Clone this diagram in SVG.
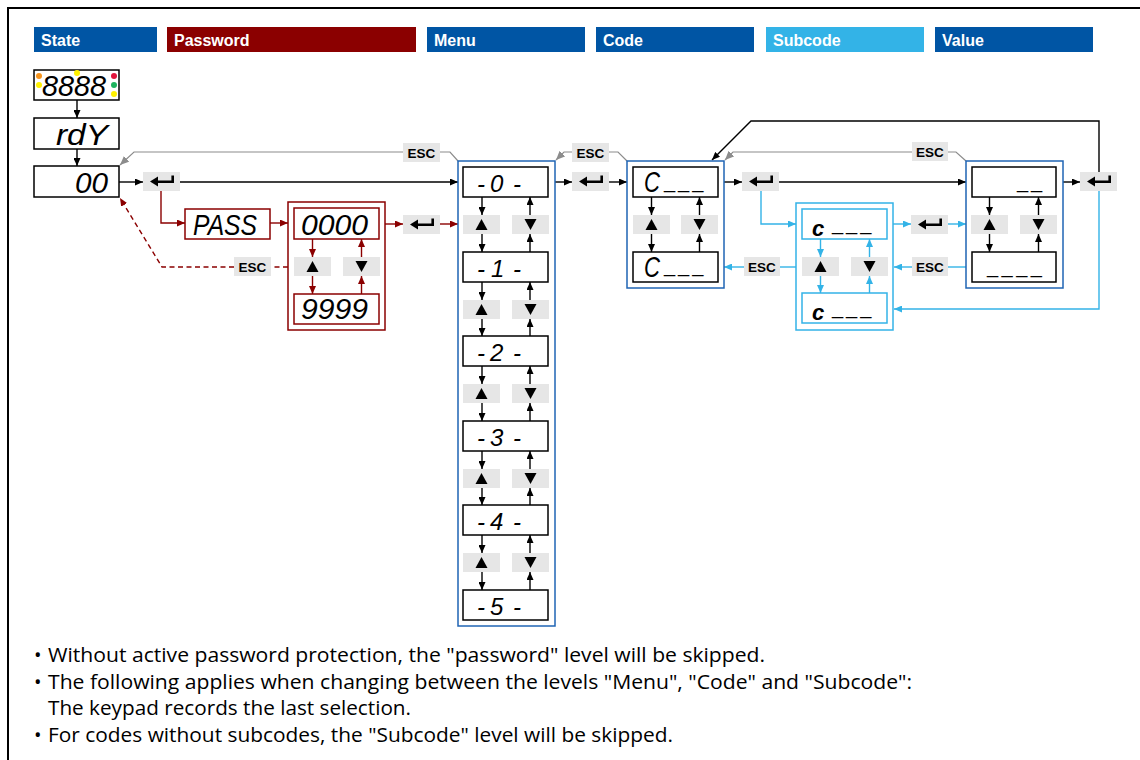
<svg xmlns="http://www.w3.org/2000/svg" xmlns:xlink="http://www.w3.org/1999/xlink" width="1140" height="760" viewBox="0 0 1140 760">
<style>
.hdr{font-family:"Liberation Sans",Arial,sans-serif;font-weight:bold;font-size:16px;fill:#fff}
.disp{fill:#fff;stroke:#000;stroke-width:1.5}
.dispr{fill:#fff;stroke:#8b0000;stroke-width:1.5}
.displ{fill:#fff;stroke:#33b3e7;stroke-width:1.5}
.outb{fill:none;stroke:#1f64b4;stroke-width:1.5}
.outr{fill:none;stroke:#8b0000;stroke-width:1.5}
.outl{fill:none;stroke:#33b3e7;stroke-width:1.5}
.seg{font-family:"Liberation Sans",Arial,sans-serif;font-style:italic;fill:#000}
.und{font-family:"Liberation Sans",Arial,sans-serif;font-size:20px;fill:#000}
.key{fill:#e6e6e6}
.esc{font-family:"Liberation Sans",Arial,sans-serif;font-weight:bold;font-size:13.5px;fill:#000}
.note{font-family:"Open Sans","Noto Sans",sans-serif;font-size:20px;fill:#000}
.cb{fill:none;stroke:#000;stroke-width:1.4}
.cr{fill:none;stroke:#8b0000;stroke-width:1.4}
.crd{fill:none;stroke:#8b0000;stroke-width:1.4;stroke-dasharray:5,3.5}
.cl{fill:none;stroke:#33b3e7;stroke-width:1.4}
.cg{fill:none;stroke:#8c8c8c;stroke-width:1.2}
</style>
<defs>
<marker id="ab" viewBox="0 0 8 7" refX="8" refY="3.5" markerWidth="8" markerHeight="7" markerUnits="userSpaceOnUse" orient="auto"><path d="M0,0L8,3.5L0,7z" fill="#000"/></marker>
<marker id="ar" viewBox="0 0 8 7" refX="8" refY="3.5" markerWidth="8" markerHeight="7" markerUnits="userSpaceOnUse" orient="auto"><path d="M0,0L8,3.5L0,7z" fill="#8b0000"/></marker>
<marker id="al" viewBox="0 0 8 7" refX="8" refY="3.5" markerWidth="8" markerHeight="7" markerUnits="userSpaceOnUse" orient="auto"><path d="M0,0L8,3.5L0,7z" fill="#33b3e7"/></marker>
<marker id="ag" viewBox="0 0 8 7" refX="8" refY="3.5" markerWidth="9" markerHeight="8" markerUnits="userSpaceOnUse" orient="auto"><path d="M0,0L8,3.5L0,7z" fill="#8c8c8c"/></marker>
<symbol id="kEnter" viewBox="0 0 37 19"><rect width="37" height="19" fill="#e6e6e6"/><path d="M7,9.5L15,4.5V14.5Z" fill="#000"/><path d="M14,9.7H29.7V3.5" fill="none" stroke="#000" stroke-width="2.6"/></symbol>
<symbol id="kUp" viewBox="0 0 37 19"><rect width="37" height="19" fill="#e6e6e6"/><path d="M18.5,4L24.5,15H12.5Z" fill="#000"/></symbol>
<symbol id="kDown" viewBox="0 0 37 19"><rect width="37" height="19" fill="#e6e6e6"/><path d="M12.5,4H24.5L18.5,15Z" fill="#000"/></symbol>
</defs>
<rect x="0" y="0" width="1140" height="760" fill="#fff"/>
<rect x="8" y="8" width="1140" height="760" fill="none" stroke="#000" stroke-width="2"/>

<g id="headers">
<rect x="34" y="27" width="123" height="25" fill="#0055a4"/><text class="hdr" x="41" y="46">State</text>
<rect x="167" y="27" width="249" height="25" fill="#8b0000"/><text class="hdr" x="174" y="46">Password</text>
<rect x="427" y="27" width="158" height="25" fill="#0055a4"/><text class="hdr" x="434" y="46">Menu</text>
<rect x="596" y="27" width="158" height="25" fill="#0055a4"/><text class="hdr" x="603" y="46">Code</text>
<rect x="766" y="27" width="158" height="25" fill="#33b3e7"/><text class="hdr" x="773" y="46">Subcode</text>
<rect x="935" y="27" width="158" height="25" fill="#0055a4"/><text class="hdr" x="942" y="46">Value</text>
</g>

<g id="connectors">
<path class="cb" d="M77,100V118" marker-end="url(#ab)"/>
<path class="cb" d="M77,149V166" marker-end="url(#ab)"/>
<path class="cb" d="M119,182H143" marker-end="url(#ab)"/>
<path class="cb" d="M180,182H458" marker-end="url(#ab)"/>
<path class="cg" d="M458,161L450,152H134L120,165" marker-end="url(#ag)"/>
<path class="cr" d="M161,191V223H185" marker-end="url(#ar)"/>
<path class="cr" d="M270,223H288" marker-end="url(#ar)"/>
<path class="cr" d="M385,224H403" marker-end="url(#ar)"/>
<path class="cr" d="M440,224H458" marker-end="url(#ar)"/>
<path class="cr" d="M312.5,239V257" marker-end="url(#ar)"/>
<path class="cr" d="M312.5,276V294" marker-end="url(#ar)"/>
<path class="cr" d="M361.5,294V276" marker-end="url(#ar)"/>
<path class="cr" d="M361.5,257V239" marker-end="url(#ar)"/>
<path class="crd" d="M288,267H271M234,267H162L120,198" marker-end="url(#ar)"/>
<path class="cb" d="M482,197V215" marker-end="url(#ab)"/>
<path class="cb" d="M482,234V252" marker-end="url(#ab)"/>
<path class="cb" d="M482,282V300" marker-end="url(#ab)"/>
<path class="cb" d="M482,319V336" marker-end="url(#ab)"/>
<path class="cb" d="M482,366V384" marker-end="url(#ab)"/>
<path class="cb" d="M482,403V421" marker-end="url(#ab)"/>
<path class="cb" d="M482,451V469" marker-end="url(#ab)"/>
<path class="cb" d="M482,488V505" marker-end="url(#ab)"/>
<path class="cb" d="M482,535V553" marker-end="url(#ab)"/>
<path class="cb" d="M482,572V590" marker-end="url(#ab)"/>
<path class="cb" d="M530,252V234" marker-end="url(#ab)"/>
<path class="cb" d="M530,215V197" marker-end="url(#ab)"/>
<path class="cb" d="M530,336V319" marker-end="url(#ab)"/>
<path class="cb" d="M530,300V282" marker-end="url(#ab)"/>
<path class="cb" d="M530,421V403" marker-end="url(#ab)"/>
<path class="cb" d="M530,384V366" marker-end="url(#ab)"/>
<path class="cb" d="M530,505V488" marker-end="url(#ab)"/>
<path class="cb" d="M530,469V451" marker-end="url(#ab)"/>
<path class="cb" d="M530,590V572" marker-end="url(#ab)"/>
<path class="cb" d="M530,553V535" marker-end="url(#ab)"/>
<path class="cb" d="M555,182H572" marker-end="url(#ab)"/>
<path class="cb" d="M608,182H627" marker-end="url(#ab)"/>
<path class="cg" d="M627,161L618,152H608"/>
<path class="cg" d="M572,152H564L556,160" marker-end="url(#ag)"/>
<path class="cb" d="M651.5,197V215" marker-end="url(#ab)"/>
<path class="cb" d="M651.5,234V252" marker-end="url(#ab)"/>
<path class="cb" d="M699.5,252V234" marker-end="url(#ab)"/>
<path class="cb" d="M699.5,215V197" marker-end="url(#ab)"/>
<path class="cb" d="M724,182H742" marker-end="url(#ab)"/>
<path class="cb" d="M779,182H966" marker-end="url(#ab)"/>
<path class="cl" d="M761,191V224H796" marker-end="url(#al)"/>
<path class="cl" d="M796,267H779"/>
<path class="cl" d="M744,267H724" marker-end="url(#al)"/>
<path class="cl" d="M820.5,239V257" marker-end="url(#al)"/>
<path class="cl" d="M820.5,276V293" marker-end="url(#al)"/>
<path class="cl" d="M869.5,293V276" marker-end="url(#al)"/>
<path class="cl" d="M869.5,257V239" marker-end="url(#al)"/>
<path class="cl" d="M893,224H911" marker-end="url(#al)"/>
<path class="cl" d="M948,224H966" marker-end="url(#al)"/>
<path class="cl" d="M966,267H948"/>
<path class="cl" d="M912,267H894" marker-end="url(#al)"/>
<path class="cb" d="M989.5,197V215" marker-end="url(#ab)"/>
<path class="cb" d="M989.5,234V252" marker-end="url(#ab)"/>
<path class="cb" d="M1038.5,252V234" marker-end="url(#ab)"/>
<path class="cb" d="M1038.5,215V197" marker-end="url(#ab)"/>
<path class="cb" d="M1063,182H1080" marker-end="url(#ab)"/>
<path class="cb" d="M1099,172V121H751L712,160" marker-end="url(#ab)"/>
<path class="cl" d="M1099,191V309H894" marker-end="url(#al)"/>
<path class="cg" d="M966,161L956,152H948"/>
<path class="cg" d="M912,152H733L725,160" marker-end="url(#ag)"/>
</g>

<g id="state-8888">
<rect class="disp" x="34" y="70" width="85" height="30"/>
<text class="seg" x="42" y="96" font-size="29" textLength="64" lengthAdjust="spacingAndGlyphs">8888</text>
<circle cx="39" cy="76" r="3" fill="#f7941d"/>
<circle cx="39" cy="85" r="3" fill="#fff200"/>
<circle cx="77" cy="73" r="3" fill="#fff200"/>
<circle cx="114" cy="76" r="3" fill="#e0143c"/>
<circle cx="114" cy="85" r="3" fill="#1db35e"/>
<circle cx="114" cy="94" r="3" fill="#fff200"/>
</g>
<g id="state-rdy"><rect class="disp" x="34" y="118" width="85" height="31"/><text class="seg" x="56" y="145" font-size="29" textLength="52" lengthAdjust="spacingAndGlyphs">rdY</text></g>
<g id="state-00"><rect class="disp" x="34" y="166" width="85" height="31"/><text class="seg" x="75" y="193" font-size="29" textLength="33" lengthAdjust="spacingAndGlyphs">00</text></g>
<g id="enter-state"><use xlink:href="#kEnter" x="143" y="172" width="37" height="19"/></g>

<g id="pass-label"><rect class="dispr" x="185" y="209" width="85" height="30"/><text class="seg" x="193" y="235" font-size="29" textLength="64" lengthAdjust="spacingAndGlyphs">PASS</text></g>
<g id="password">
<rect class="outr" x="288" y="202" width="97" height="128"/>
<rect class="dispr" x="294" y="208" width="85" height="31"/><text class="seg" x="301" y="235" font-size="29" textLength="67" lengthAdjust="spacingAndGlyphs">0000</text>
<rect class="dispr" x="294" y="294" width="85" height="30"/><text class="seg" x="301" y="319" font-size="29" textLength="67" lengthAdjust="spacingAndGlyphs">9999</text>
<use xlink:href="#kUp" x="294" y="257" width="37" height="19"/>
<use xlink:href="#kDown" x="343" y="257" width="37" height="19"/>
</g>
<g id="esc-password"><rect class="key" x="234" y="257" width="37" height="19"/><text class="esc" x="252.5" y="271.5" text-anchor="middle">ESC</text></g>
<g id="enter-password"><use xlink:href="#kEnter" x="403" y="215" width="37" height="19"/></g>
<g id="esc-menu"><rect class="key" x="403" y="143" width="37" height="19"/><text class="esc" x="421.5" y="157.5" text-anchor="middle">ESC</text></g>

<g id="menu">
<rect class="outb" x="458" y="161" width="97" height="465"/>
<rect class="disp" x="463" y="167" width="85" height="30"/><text class="seg" y="192" font-size="24"><tspan x="477">-</tspan><tspan x="490">0</tspan><tspan x="513">-</tspan></text>
<rect class="disp" x="463" y="252" width="85" height="30"/><text class="seg" y="277" font-size="24"><tspan x="477">-</tspan><tspan x="491">1</tspan><tspan x="513">-</tspan></text>
<rect class="disp" x="463" y="336" width="85" height="30"/><text class="seg" y="361" font-size="24"><tspan x="477">-</tspan><tspan x="490">2</tspan><tspan x="513">-</tspan></text>
<rect class="disp" x="463" y="421" width="85" height="30"/><text class="seg" y="446" font-size="24"><tspan x="477">-</tspan><tspan x="490">3</tspan><tspan x="513">-</tspan></text>
<rect class="disp" x="463" y="505" width="85" height="30"/><text class="seg" y="530" font-size="24"><tspan x="477">-</tspan><tspan x="490">4</tspan><tspan x="513">-</tspan></text>
<rect class="disp" x="463" y="590" width="85" height="30"/><text class="seg" y="615" font-size="24"><tspan x="477">-</tspan><tspan x="490">5</tspan><tspan x="513">-</tspan></text>
<use xlink:href="#kUp" x="463" y="215" width="37" height="19"/><use xlink:href="#kDown" x="512" y="215" width="37" height="19"/>
<use xlink:href="#kUp" x="463" y="300" width="37" height="19"/><use xlink:href="#kDown" x="512" y="300" width="37" height="19"/>
<use xlink:href="#kUp" x="463" y="384" width="37" height="19"/><use xlink:href="#kDown" x="512" y="384" width="37" height="19"/>
<use xlink:href="#kUp" x="463" y="469" width="37" height="19"/><use xlink:href="#kDown" x="512" y="469" width="37" height="19"/>
<use xlink:href="#kUp" x="463" y="553" width="37" height="19"/><use xlink:href="#kDown" x="512" y="553" width="37" height="19"/>
</g>
<g id="enter-menu"><use xlink:href="#kEnter" x="572" y="172" width="37" height="19"/></g>
<g id="esc-code"><rect class="key" x="572" y="143" width="37" height="19"/><text class="esc" x="590.5" y="157.5" text-anchor="middle">ESC</text></g>

<g id="code">
<rect class="outb" x="627" y="161" width="97" height="127"/>
<rect class="disp" x="633" y="167" width="85" height="30"/><text class="seg" x="644" y="192" font-size="29" textLength="16" lengthAdjust="spacingAndGlyphs">C</text><text class="und" x="664" y="188" letter-spacing="3">___</text>
<rect class="disp" x="633" y="252" width="85" height="30"/><text class="seg" x="644" y="277" font-size="29" textLength="16" lengthAdjust="spacingAndGlyphs">C</text><text class="und" x="664" y="272" letter-spacing="3">___</text>
<use xlink:href="#kUp" x="633" y="215" width="37" height="19"/><use xlink:href="#kDown" x="681" y="215" width="37" height="19"/>
</g>
<g id="enter-code"><use xlink:href="#kEnter" x="742" y="172" width="37" height="19"/></g>
<g id="esc-sub-code"><rect class="key" x="744" y="257" width="36" height="19"/><text class="esc" x="762" y="271.5" text-anchor="middle">ESC</text></g>

<g id="subcode">
<rect class="outl" x="796" y="203" width="97" height="127"/>
<rect class="displ" x="802" y="209" width="85" height="30"/><text class="seg" x="812" y="236" font-size="22" font-weight="bold">c</text><text class="und" x="832" y="230" letter-spacing="3">___</text>
<rect class="displ" x="802" y="293" width="85" height="30"/><text class="seg" x="812" y="320" font-size="22" font-weight="bold">c</text><text class="und" x="832" y="314" letter-spacing="3">___</text>
<use xlink:href="#kUp" x="802" y="257" width="37" height="19"/><use xlink:href="#kDown" x="851" y="257" width="37" height="19"/>
</g>
<g id="enter-subcode"><use xlink:href="#kEnter" x="911" y="215" width="37" height="19"/></g>
<g id="esc-value-sub"><rect class="key" x="912" y="257" width="36" height="19"/><text class="esc" x="930" y="271.5" text-anchor="middle">ESC</text></g>
<g id="esc-value"><rect class="key" x="912" y="142" width="36" height="19"/><text class="esc" x="930" y="156.5" text-anchor="middle">ESC</text></g>

<g id="value">
<rect class="outb" x="966" y="161" width="97" height="127"/>
<rect class="disp" x="972" y="167" width="84" height="30"/><text class="und" x="1017" y="188" letter-spacing="3">__</text>
<rect class="disp" x="972" y="252" width="84" height="30"/><text class="und" x="987" y="273" letter-spacing="3.5">____</text>
<use xlink:href="#kUp" x="971" y="215" width="37" height="19"/><use xlink:href="#kDown" x="1020" y="215" width="37" height="19"/>
</g>
<g id="enter-value"><use xlink:href="#kEnter" x="1080" y="172" width="37" height="19"/></g>

<g id="notes">
<text class="note" x="34" y="662">•</text><text class="note" x="48" y="662" textLength="717" lengthAdjust="spacingAndGlyphs">Without active password protection, the "password" level will be skipped.</text>
<text class="note" x="34" y="689">•</text><text class="note" x="48" y="689" textLength="864" lengthAdjust="spacingAndGlyphs">The following applies when changing between the levels "Menu", "Code" and "Subcode":</text>
<text class="note" x="48" y="715" textLength="363" lengthAdjust="spacingAndGlyphs">The keypad records the last selection.</text>
<text class="note" x="34" y="742">•</text><text class="note" x="48" y="742" textLength="625" lengthAdjust="spacingAndGlyphs">For codes without subcodes, the "Subcode" level will be skipped.</text>
</g>
</svg>
